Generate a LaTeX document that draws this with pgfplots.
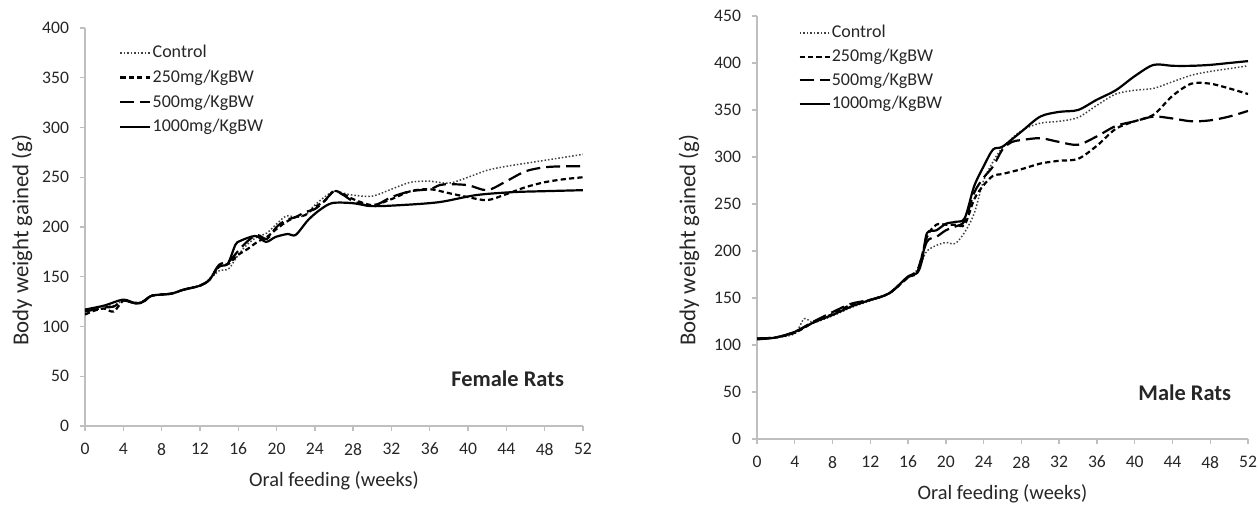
\documentclass[border=0pt]{standalone}
\usepackage{fontspec}
\setmainfont{Carlito}
\usepackage{pgfplots}
\pgfplotsset{compat=1.18}

\definecolor{axgray}{HTML}{BFBFBF}
\definecolor{txt}{HTML}{262626}

\pgfplotsset{
  ratstyle/.style={
    scale only axis,
    xmin=0, xmax=52, ymin=0,
    xtick={0,4,...,52},
    axis x line*=bottom, axis y line*=left,
    axis line style={-, draw=axgray, line width=0.7pt},
    tick align=outside, major tick length=2.5pt,
    tick style={draw=axgray, line width=0.7pt},
    /pgf/number format/assume math mode=true,
    tick label style={font=\fontsize{8.8}{10}\selectfont, text=txt},
    xticklabel style={yshift=-2.5pt},
    yticklabel style={xshift=-2pt},
    xlabel={Oral feeding (weeks)},
    ylabel={Body weight gained (g)},
    xlabel style={font=\fontsize{10.2}{12}\selectfont, text=txt,
      at={(axis description cs:0.5,0)}, anchor=center, yshift=-27.5pt},
    ylabel style={font=\fontsize{11.4}{13}\selectfont, text=txt, anchor=center},
    legend cell align=left,
    legend image code/.code={\draw[##1] (0pt,0pt) -- (15pt,0pt);},
    legend style={draw=none, fill=none, anchor=north west,
      font=\fontsize{9}{10.5}\selectfont, text=txt,
      row sep=3pt, inner sep=0pt,
      nodes={inner xsep=0.6pt, inner ysep=0.8pt}},
  },
  ctrl/.style={black!75, line width=0.75pt, densely dotted, smooth},
  d250/.style={black, line width=1.1pt, dash pattern=on 2.6pt off 1.6pt, smooth},
  d500/.style={black, line width=1.1pt, dash pattern=on 7pt off 3pt, smooth},
  d1000/.style={black, line width=1.1pt, smooth},
}

\begin{document}
\begin{tikzpicture}
\useasboundingbox (0,0) rectangle (629.5pt,253.5pt);

% ---------------- Female rats
\begin{axis}[ratstyle, at={(42.5pt,40.5pt)}, anchor=south west,
  width=249pt, height=199pt, ymax=400, ytick={0,50,...,400},
  ylabel style={at={(axis description cs:-0.1265,0.467)}},
  legend style={at={(rel axis cs:0.068,0.962)}}]
\addplot[ctrl] coordinates {
(0,117)(2,120)(3,121)(4,126)(5,124)(6,125)(7,131)(9,133)(10.3,137)(12,141)
(13,147)(14,156)(15,158)(16,172)(17,183)(18,190)(19,194)(20,203)(21,211)
(22,210)(23,212)(24,222)(25,230)(26,236)(27,234)(28,232)(30,231)(32,238)
(34,245)(36,246)(38,244)(40,250)(42,257)(44,261)(46,264)(48,267)(50,270)(52,273)};
\addlegendentry{Control}
\addplot[d250] coordinates {
(0,112)(1,116)(2,118)(3,115)(4,126)(5,124)(6,124)(7,131)(9,133)(10.3,137)(12,141)
(13,147)(14,160)(15,163)(16,172)(17,178)(18,185)(19,190)(20,198)(21,205)
(22,210)(23,212)(24,220)(25,226)(26,236)(27,233)(28,228)(30,222)(32,228)
(34,236)(36,238)(38,234)(40,230)(42,227)(44,233)(46,240)(48,245)(50,248)(52,250)};
\addlegendentry{250mg/KgBW}
\addplot[d500] coordinates {
(0,115)(2,119)(3,120)(4,126)(5,124)(6,125)(7,131)(9,133)(10.3,137)(12,141)
(13,147)(14,162)(15,165)(16,176)(17,186)(18,192)(19,188)(20,200)(21,207)
(22,210)(23,215)(24,218)(25,226)(26,236)(27,232)(28,226)(30,221)(32,230)
(34,236)(36,238)(37,242)(38,243)(40,242)(42,237)(44,246)(46,256)(48,260)(50,261)(52,261)};
\addlegendentry{500mg/KgBW}
\addplot[d1000] coordinates {
(0,117)(2,121)(4,127)(5.3,123)(6.1,125)(7,131)(9,133)(10.3,137)(12,141)
(13,147)(13.9,160)(14.9,163)(15.7,182)(16.2,186)(17.8,191)(18.9,185)(19.9,190)
(21.2,193)(22,192)(23.3,207)(24.5,217)(25.8,224)(27.9,224)(30,221)(33,222)
(37,225)(40.8,232)(44.6,235)(48,236)(52,237)};
\addlegendentry{1000mg/KgBW}
\node[font=\bfseries\fontsize{11.2}{13}\selectfont, text=txt, anchor=east]
  at (rel axis cs:0.976,0.12) {Female Rats};
\end{axis}

% ---------------- Male rats
\begin{axis}[ratstyle, at={(378.5pt,34pt)}, anchor=south west,
  width=245.5pt, height=211.5pt, ymax=450, ytick={0,50,...,450},
  ylabel style={at={(axis description cs:-0.1385,0.47)}},
  legend style={at={(rel axis cs:0.0835,0.983)}, row sep=2.5pt}]
\addplot[ctrl] coordinates {
(0,107)(2,108)(4,112)(5,128)(6,124)(8,131)(10,140)(12,147)(14,155)(16,172)
(17,180)(17.5,190)(18,200)(19,206)(20,209)(21,208)(22,220)(23,240)(24,275)
(25,295)(26,310)(28,328)(30,336)(32,338)(34,342)(36,355)(38,367)(40,371)
(42,373)(44,380)(46,387)(48,391)(50,394)(52,397)};
\addlegendentry{Control}
\addplot[d250] coordinates {
(0,107)(2,108)(4,113)(6,124)(8,133)(10,143)(12,148)(14,155)(16,172)(17,178)
(18,215)(19,228)(20,228)(21,228)(22,228)(23,255)(24,270)(25,280)(26,282)
(28,287)(30,293)(32,296)(34,298)(36,312)(38,330)(40,338)(42,345)(44,365)
(46,378)(48,378)(50,373)(52,367)};
\addlegendentry{250mg/KgBW}
\addplot[d500] coordinates {
(0,107)(2,108)(4,114)(6,125)(8,135)(10,144)(12,148)(14,155)(16,172)(17,180)
(18,210)(19,215)(20,222)(21,226)(22,232)(23,262)(24,278)(25,290)(26,308)
(27,316)(28,318)(30,320)(32,316)(34,313)(36,322)(38,333)(40,338)(42,343)
(44,341)(46,338)(48,339)(50,343)(52,349)};
\addlegendentry{500mg/KgBW}
\addplot[d1000] coordinates {
(0,106)(2,108)(4,114)(6,124)(8,132)(10,141)(12,148)(14,155)(16,173)(17,177)
(17.5,191)(18,219)(19,222)(20,229)(21,231)(22,235)(23,269)(24,290)(25,308)
(26,311)(28,327)(30,343)(32,348)(34,350)(36,361)(38,371)(40,386)(42,398)
(44,397)(46,397)(48,398)(50,400)(52,402)};
\addlegendentry{1000mg/KgBW}
\node[font=\bfseries\fontsize{11.2}{13}\selectfont, text=txt, anchor=east]
  at (rel axis cs:0.98,0.109) {Male Rats};
\end{axis}
\end{tikzpicture}
\end{document}
